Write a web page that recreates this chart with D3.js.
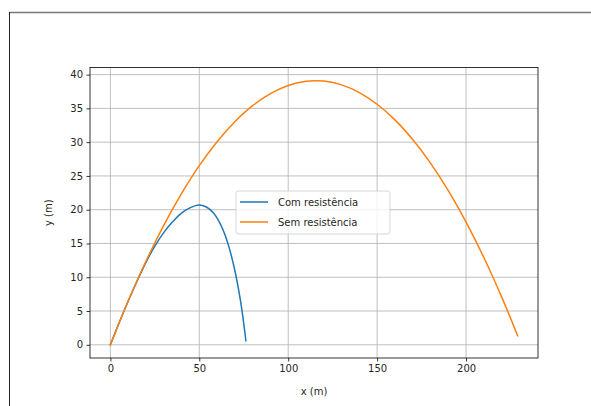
<!DOCTYPE html>
<html>
<head>
<meta charset="utf-8">
<script src="https://cdn.jsdelivr.net/npm/d3@7"></script>
<style>
  html, body { margin: 0; padding: 0; background: #fff; }
  svg { display: block; }
  text { font-family: "DejaVu Sans", sans-serif; }
</style>
</head>
<body>
<script>
// Trajectory of a projectile, with and without air resistance
const withDragX = [0, 5, 10, 15, 20, 25, 30, 35, 40, 45, 49.5, 54, 58, 61, 64, 67, 70, 72, 74, 76.2];
const withDragY = [0, 3.3, 6.45, 9.4, 12.2, 14.6, 16.6, 18.2, 19.5, 20.3, 20.7, 20.4, 19.5, 18.3, 16.6, 14.2, 11.0, 8.3, 5.1, 0.6];

const noDragX = [0, 10, 20, 30, 40, 50, 60, 70, 80, 90, 100, 110, 115.5, 120, 130, 140, 150, 160, 170, 180, 190, 200, 210, 220, 229];
const noDragY = [0, 6.48, 12.37, 17.67, 22.39, 26.53, 30.07, 33.03, 35.41, 37.19, 38.40, 39.01, 39.1, 39.04, 38.48, 37.34, 35.61, 33.30, 30.39, 26.90, 22.83, 18.17, 12.92, 7.09, 1.34];

const seriesNames = ["Com resistência", "Sem resistência"];
const seriesColors = ["#1f77b4", "#ff7f0e"];
const xTicks = [0, 50, 100, 150, 200];
const yTicks = [0, 5, 10, 15, 20, 25, 30, 35, 40];
const xLabel = "x (m)";
const yLabel = "y (m)";

const W = 591, H = 406;
const plot = { left: 90, right: 538, top: 67.5, bottom: 358 };

const svg = d3.select("body").append("svg").attr("width", W).attr("height", H);

// outer frame of the output cell
svg.append("line").attr("x1", 9).attr("x2", W).attr("y1", 12.5).attr("y2", 12.5)
  .attr("stroke", "#777").attr("stroke-width", 1.5);
svg.append("line").attr("x1", 9.5).attr("x2", 9.5).attr("y1", 12).attr("y2", H)
  .attr("stroke", "#222").attr("stroke-width", 1);

const allX = noDragX.concat(withDragX), allY = noDragY.concat(withDragY);
const [x0, x1] = d3.extent(allX), [y0, y1] = d3.extent(allY);
const mx = (x1 - x0) * 0.05, my = (y1 - y0) * 0.05;

const x = d3.scaleLinear().domain([x0 - mx, x1 + mx]).range([plot.left, plot.right]);
const y = d3.scaleLinear().domain([y0 - my, y1 + my]).range([plot.bottom, plot.top]);

// grid
const grid = svg.append("g").attr("stroke", "#b0b0b0").attr("stroke-width", 0.8);
xTicks.forEach(t => grid.append("line").attr("x1", x(t)).attr("x2", x(t))
  .attr("y1", plot.top).attr("y2", plot.bottom));
yTicks.forEach(t => grid.append("line").attr("y1", y(t)).attr("y2", y(t))
  .attr("x1", plot.left).attr("x2", plot.right));

// axes
const xAxis = d3.axisBottom(x).tickValues(xTicks).tickSize(3.5).tickPadding(3.5).tickFormat(d3.format("d"));
const yAxis = d3.axisLeft(y).tickValues(yTicks).tickSize(3.5).tickPadding(3.5).tickFormat(d3.format("d"));

const gx = svg.append("g").attr("transform", `translate(0,${plot.bottom})`).call(xAxis);
const gy = svg.append("g").attr("transform", `translate(${plot.left},0)`).call(yAxis);
[gx, gy].forEach(g => {
  g.select(".domain").remove();
  g.selectAll(".tick line").attr("stroke", "#000").attr("stroke-width", 0.8);
  g.selectAll(".tick text").attr("fill", "#262626").attr("font-size", 10)
    .attr("font-family", "DejaVu Sans, sans-serif");
});

// spines
svg.append("rect").attr("x", plot.left).attr("y", plot.top)
  .attr("width", plot.right - plot.left).attr("height", plot.bottom - plot.top)
  .attr("fill", "none").attr("stroke", "#000").attr("stroke-width", 0.8);

// curves
const line = d3.line().x(d => x(d[0])).y(d => y(d[1])).curve(d3.curveCatmullRom.alpha(0.5));
const series = [
  d3.zip(withDragX, withDragY),
  d3.zip(noDragX, noDragY)
];
series.forEach((pts, i) => {
  svg.append("path").datum(pts).attr("d", line)
    .attr("fill", "none").attr("stroke", seriesColors[i]).attr("stroke-width", 1.5)
    .attr("stroke-linecap", "square").attr("stroke-linejoin", "round");
});

// axis labels
svg.append("text").attr("x", (plot.left + plot.right) / 2).attr("y", 395)
  .attr("text-anchor", "middle").attr("font-size", 10).attr("fill", "#262626").text(xLabel);
svg.append("text").attr("transform", `translate(52,${(plot.top + plot.bottom) / 2}) rotate(-90)`)
  .attr("text-anchor", "middle").attr("font-size", 10).attr("fill", "#262626").text(yLabel);

// legend
const lg = svg.append("g").attr("transform", "translate(236,191)");
lg.append("rect").attr("x", 0).attr("y", 0).attr("width", 154).attr("height", 43)
  .attr("rx", 2.5).attr("fill", "#fff").attr("fill-opacity", 0.8)
  .attr("stroke", "#cccccc").attr("stroke-width", 0.8);
seriesNames.forEach((name, i) => {
  const yy = 11 + i * 20;
  lg.append("line").attr("x1", 4).attr("x2", 32).attr("y1", yy).attr("y2", yy)
    .attr("stroke", seriesColors[i]).attr("stroke-width", 1.5);
  lg.append("text").attr("x", 42).attr("y", yy + 3.6).attr("font-size", 10)
    .attr("fill", "#262626").text(name);
});
</script>
</body>
</html>
